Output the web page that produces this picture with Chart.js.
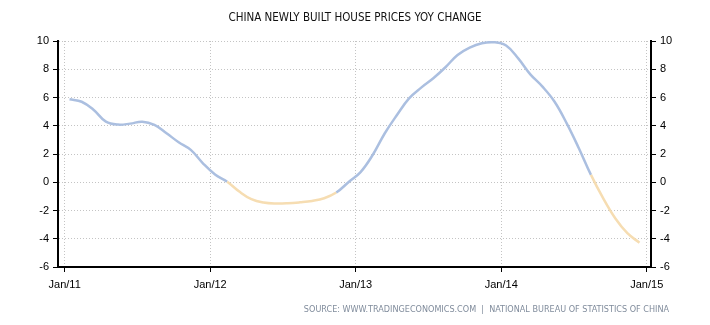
<!DOCTYPE html>
<html>
<head>
<meta charset="utf-8">
<script src="https://cdn.jsdelivr.net/npm/chart.js@4.4.1/dist/chart.umd.min.js"></script>
<style>
  html, body { margin: 0; padding: 0; background: #fff; }
  #wrap { width: 710px; height: 325px; }
</style>
</head>
<body>
<div id="wrap"><canvas id="lineChart" width="710" height="325"></canvas></div>
<script>
// YoY change (%) of newly built house prices, monthly Jan 2011 .. Dec 2014
var yoyChange = [
  5.87, 5.70, 5.12, 4.29, 4.08, 4.15, 4.29, 4.06, 3.47, 2.83, 2.29, 1.34,
  0.55, 0.04, -0.66, -1.20, -1.44, -1.51, -1.49, -1.42, -1.32, -1.13, -0.73, 0.00,
  0.72, 1.93, 3.47, 4.76, 5.94, 6.70, 7.36, 8.14, 9.01, 9.53, 9.84, 9.91,
  9.68, 8.77, 7.64, 6.77, 5.70, 4.17, 2.41, 0.52, -1.13, -2.55, -3.61, -4.28
];
var yearLabels = ["Jan/11", "Jan/12", "Jan/13", "Jan/14", "Jan/15"];
var yTicks = [-6, -4, -2, 0, 2, 4, 6, 8, 10];

var title = "CHINA NEWLY BUILT HOUSE PRICES YOY CHANGE";
var source = "SOURCE: WWW.TRADINGECONOMICS.COM  |  NATIONAL BUREAU OF STATISTICS OF CHINA";

var blue = 'rgb(171, 191, 224)';
var orange = 'rgb(246, 221, 178)';
var gridColor = 'rgb(196, 196, 196)';

// x is months since Jan 2011; readings sit a bit after the month start
var points = yoyChange.map(function (v, i) { return { x: i + 0.4, y: v }; });

var tickFont = { family: "'Liberation Sans', Arial, sans-serif", size: 11 };

function yAxis(position, width, drawGrid) {
  return {
    position: position,
    min: yTicks[0],
    max: yTicks[yTicks.length - 1],
    afterBuildTicks: function (s) { s.ticks = yTicks.map(function (v) { return { value: v }; }); },
    afterFit: function (s) { s.width = width; },
    ticks: { color: '#000', font: tickFont, padding: 4 },
    grid: {
      drawOnChartArea: drawGrid,
      color: gridColor,
      tickColor: '#000',
      tickLength: 5,
      tickWidth: 1,
      tickBorderDash: []
    },
    border: { display: true, color: '#000', width: 2, dash: [1, 2] }
  };
}

// source line under the axis, right aligned
var sourceLine = {
  id: 'sourceLine',
  afterDraw: function (chart) {
    var ctx = chart.ctx;
    ctx.save();
    ctx.font = "9px 'DejaVu Sans Condensed', 'DejaVu Sans', sans-serif";
    ctx.fillStyle = 'rgb(128, 140, 156)';
    ctx.textAlign = 'right';
    ctx.textBaseline = 'middle';
    ctx.fillText(source, 669, 310);
    ctx.restore();
  }
};

var chartEl = document.getElementById("lineChart").getContext('2d');
var lineChart = new Chart(chartEl, {
  type: 'line',
  data: {
    datasets: [{
      label: "YoY change",
      data: points,
      borderColor: blue,
      borderWidth: 2.5,
      pointRadius: 0,
      tension: 0.4,
      fill: false,
      segment: {
        borderColor: function (c) { return c.p1.parsed.y < 0 ? orange : blue; }
      }
    }]
  },
  options: {
    responsive: false,
    animation: false,
    layout: { padding: { left: 0, right: 0, top: 0, bottom: 25 } },
    plugins: {
      legend: { display: false },
      tooltip: { enabled: false },
      title: {
        display: true,
        text: title,
        color: '#111',
        font: { family: "'DejaVu Sans Condensed', 'DejaVu Sans', sans-serif", size: 11.5, weight: 'normal' },
        padding: { top: 11, bottom: 16.2 }
      }
    },
    scales: {
      x: {
        type: 'linear',
        min: -0.55,
        max: 48.35,
        afterBuildTicks: function (s) {
          s.ticks = yearLabels.map(function (l, i) { return { value: i * 12 }; });
        },
        afterFit: function (s) { s.height = 33; },
        ticks: {
          color: '#000',
          font: tickFont,
          padding: 6,
          maxRotation: 0,
          autoSkip: false,
          callback: function (v) { return yearLabels[v / 12]; }
        },
        grid: {
          color: gridColor,
          tickColor: '#000',
          tickLength: 5,
          tickWidth: 1,
          tickBorderDash: []
        },
        border: { display: true, color: '#000', width: 2, dash: [1, 2] }
      },
      y: yAxis('left', 58, true),
      y2: yAxis('right', 59, false)
    }
  },
  plugins: [sourceLine]
});
</script>
</body>
</html>
